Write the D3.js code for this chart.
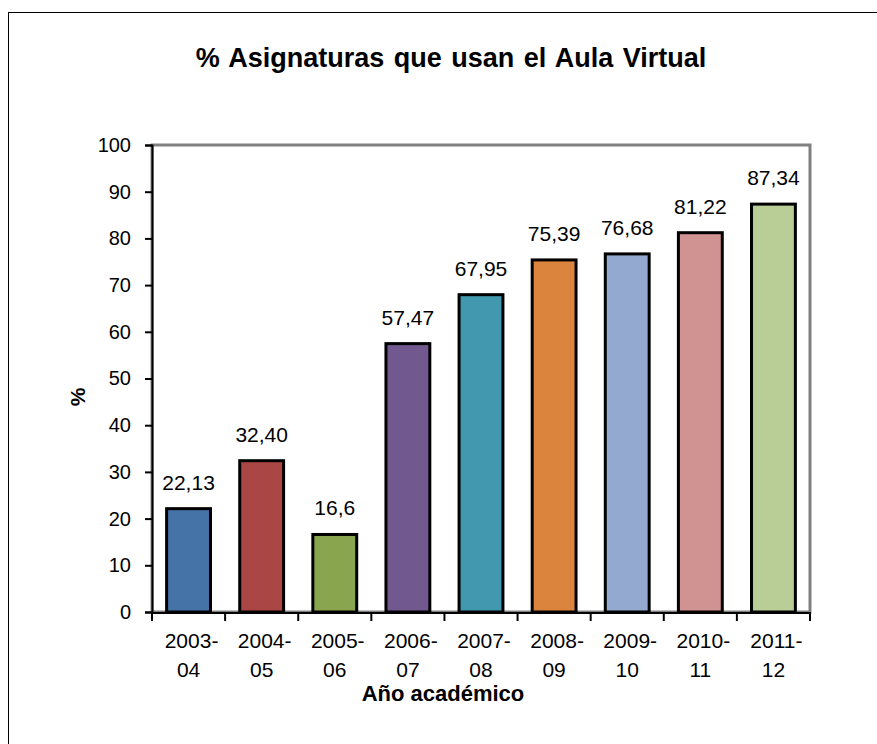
<!DOCTYPE html>
<html>
<head>
<meta charset="utf-8">
<script src="https://cdn.jsdelivr.net/npm/d3@7"></script>
<style>
  body { margin: 0; background: #fff; }
  svg text { font-family: "Liberation Sans", Arial, sans-serif; fill: #000; }
</style>
</head>
<body>
<div id="chart"></div>
<script>
// data
var years = ["2003-04", "2004-05", "2005-06", "2006-07", "2007-08", "2008-09", "2009-10", "2010-11", "2011-12"];
var values = [22.13, 32.40, 16.6, 57.47, 67.95, 75.39, 76.68, 81.22, 87.34];
var valueLabels = ["22,13", "32,40", "16,6", "57,47", "67,95", "75,39", "76,68", "81,22", "87,34"];
var colors = ["#4572A7", "#AA4643", "#89A54E", "#71588F", "#4198AF", "#DB843D", "#93A9CF", "#D19392", "#B9CD96"];
var yTicks = [0, 10, 20, 30, 40, 50, 60, 70, 80, 90, 100];

var width = 877, height = 744;
var plot = { left: 152, right: 810, top: 145, bottom: 612 };

var svg = d3.select("#chart")
    .append("svg")
    .attr("width", width)
    .attr("height", height);

// outer frame
svg.append("rect")
    .attr("x", 8.5).attr("y", 12.5)
    .attr("width", 900).attr("height", 760)
    .attr("fill", "none")
    .attr("stroke", "#000")
    .attr("stroke-width", 1);

// title
svg.append("text")
    .attr("x", 451).attr("y", 67)
    .attr("text-anchor", "middle")
    .attr("font-size", 27)
    .attr("font-weight", "bold")
    .attr("word-spacing", 2)
    .text("% Asignaturas que usan el Aula Virtual");

var x = d3.scaleBand()
    .domain(years)
    .range([plot.left, plot.right])
    .paddingInner(0.4)
    .paddingOuter(0.2);

var y = d3.scaleLinear()
    .domain([0, 100])
    .range([plot.bottom, plot.top]);

// plot area border (gray)
svg.append("rect")
    .attr("x", plot.left).attr("y", plot.top)
    .attr("width", plot.right - plot.left)
    .attr("height", plot.bottom - plot.top)
    .attr("fill", "none")
    .attr("stroke", "#808080")
    .attr("stroke-width", 3);

// bars
svg.selectAll(".bar")
    .data(values)
    .enter()
    .append("rect")
    .attr("class", "bar")
    .attr("x", (d, i) => x(years[i]))
    .attr("y", (d) => y(d))
    .attr("width", x.bandwidth())
    .attr("height", (d) => y(0) - y(d))
    .attr("fill", (d, i) => colors[i])
    .attr("stroke", "#000")
    .attr("stroke-width", 3);

// value labels
svg.selectAll(".vlabel")
    .data(values)
    .enter()
    .append("text")
    .attr("class", "vlabel")
    .attr("x", (d, i) => x(years[i]) + x.bandwidth() / 2)
    .attr("y", (d) => y(d) - 19)
    .attr("text-anchor", "middle")
    .attr("font-size", 21)
    .text((d, i) => valueLabels[i]);

// y axis
var yAxis = svg.append("g")
    .attr("transform", "translate(" + plot.left + ",0)")
    .call(d3.axisLeft(y).tickValues(yTicks).tickSize(7).tickPadding(14).tickFormat(d3.format("d")));
yAxis.select(".domain").attr("stroke", "#000").attr("stroke-width", 2);
yAxis.selectAll(".tick line").attr("stroke", "#000").attr("stroke-width", 2);
yAxis.selectAll("text").attr("font-size", 20).attr("font-family", "Liberation Sans, Arial, sans-serif");

// x axis: ticks between categories
var xBounds = years.map((d) => x(d) - x.step() * x.paddingInner() / 2);
xBounds.push(plot.right);
xBounds[0] = plot.left;
var xg = svg.append("g");
xg.append("line")
    .attr("x1", plot.left).attr("x2", plot.right)
    .attr("y1", plot.bottom + 1).attr("y2", plot.bottom + 1)
    .attr("stroke", "#000").attr("stroke-width", 2);
xg.selectAll(".xtick")
    .data(xBounds)
    .enter()
    .append("line")
    .attr("x1", (d) => d).attr("x2", (d) => d)
    .attr("y1", plot.bottom).attr("y2", plot.bottom + 9)
    .attr("stroke", "#000").attr("stroke-width", 2);

var xl = xg.selectAll(".xlabel")
    .data(years)
    .enter()
    .append("text")
    .attr("class", "xlabel")
    .attr("text-anchor", "middle")
    .attr("font-size", 21);
xl.append("tspan")
    .attr("x", (d) => x(d) + x.bandwidth() / 2 + 3)
    .attr("y", 648)
    .text((d) => d.split("-")[0] + "-");
xl.append("tspan")
    .attr("x", (d) => x(d) + x.bandwidth() / 2)
    .attr("y", 677)
    .text((d) => d.split("-")[1]);

// axis titles
svg.append("text")
    .attr("transform", "translate(85,397) rotate(-90)")
    .attr("text-anchor", "middle")
    .attr("font-size", 21)
    .attr("font-weight", "bold")
    .text("%");

svg.append("text")
    .attr("x", 443).attr("y", 701)
    .attr("text-anchor", "middle")
    .attr("font-size", 22)
    .attr("font-weight", "bold")
    .text("Año académico");
</script>
</body>
</html>
